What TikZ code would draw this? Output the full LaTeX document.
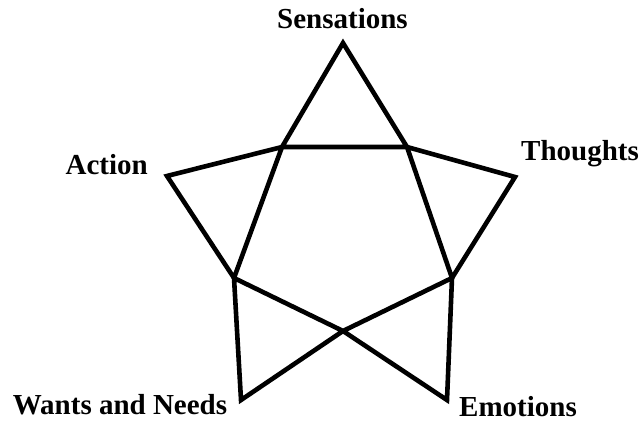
\documentclass[tikz,border=0pt]{standalone}
\usepackage{fontspec}
\setmainfont{Liberation Serif}
\usepackage{tikz}
\usetikzlibrary{positioning,calc}

\begin{document}
\begin{tikzpicture}[x=0.5pt, y=-0.5pt,
		edge/.style={line width=2.3pt, line join=miter},
		tag/.style={anchor=base, inner sep=0pt, font=\fontsize{14.5}{17}\selectfont\bfseries}]
		\useasboundingbox (0,0) rectangle (641,421);

		\coordinate (S) at (343,43);
		\coordinate (P1) at (282,147);
		\coordinate (P2) at (407,147);
		\coordinate (A) at (167,176);
		\coordinate (T) at (515,177);
		\coordinate (P5) at (234,278);
		\coordinate (P3) at (452,278);
		\coordinate (X) at (343,331);
		\coordinate (W) at (241,400);
		\coordinate (E) at (447,400);

		\draw[edge] (S) -- (P1) -- (P2) -- cycle;
		\draw[edge] (A) -- (P1) -- (P5) -- cycle;
		\draw[edge] (T) -- (P2) -- (P3) -- cycle;
		\draw[edge] (P5) -- (X) -- (E) -- (P3) -- (X) -- (W) -- cycle;

		\node[tag] (sens) at (342.5,29) {Sensations};
		\node[tag] (act) at (106.7,175) {Action};
		\node[tag] (thou) at (580,161) {Thoughts};
		\node[tag] (want) at (120,414) {Wants and Needs};
		\node[tag] (emo) at (518,416.5) {Emotions};
	\end{tikzpicture}
\end{document}
